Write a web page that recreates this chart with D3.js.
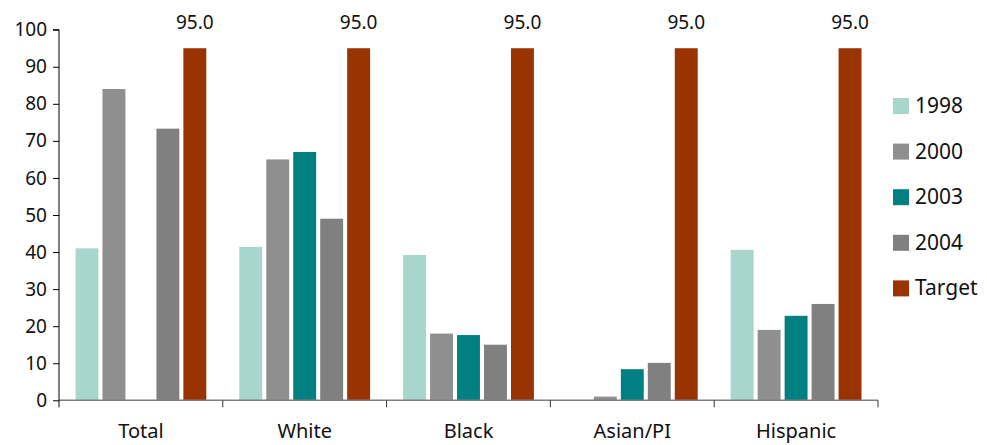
<!DOCTYPE html>
<html><head><meta charset="utf-8">
<script src="https://cdn.jsdelivr.net/npm/d3@7"></script>
<style>body{margin:0;background:#fff;} text{font-family:"Noto Sans",sans-serif;fill:#111;}</style>
</head><body><svg id="c" width="987" height="445"></svg>
<script>
const categories = ["Total","White","Black","Asian/PI","Hispanic"];
const seriesNames = ["1998","2000","2003","2004","Target"];
const v1998 = [41, 41.4, 39.2, null, 40.6];
const v2000 = [84, 65, 18, 1, 19];
const v2003 = [null, 67, 17.6, 8.4, 22.8];
const v2004 = [73.3, 49, 15, 10.1, 26];
const vTarget = [95, 95, 95, 95, 95];
const yTicks = [0,10,20,30,40,50,60,70,80,90,100];
const colors = ["#a8d5cc","#8f8f8f","#008080","#808080","#993300"];

const seriesVals = [v1998, v2000, v2003, v2004, vTarget];
const svg = d3.select("#c");
const x0 = d3.scaleBand().domain(categories).range([59, 878]).padding(0);
const x1 = d3.scaleBand().domain(seriesNames).range([0, x0.bandwidth()]).paddingInner(0.15).paddingOuter(0.612);
const y = d3.scaleLinear().domain([0,100]).range([400.3, 29.7]);

// bars
seriesNames.forEach((s, si) => {
  const data = categories.map((c, ci) => ({c, v: seriesVals[si][ci]})).filter(d => d.v != null);
  svg.append("g").selectAll("rect").data(data).join("rect")
    .attr("x", d => x0(d.c) + x1(s))
    .attr("width", x1.bandwidth())
    .attr("y", d => y(d.v))
    .attr("height", d => y(0) - y(d.v))
    .attr("fill", colors[si]);
});

// target labels
svg.append("g").selectAll("text").data(categories.map((c,i)=>({c, v:vTarget[i]}))).join("text")
  .attr("x", d => x0(d.c) + x1("Target") + x1.bandwidth()/2)
  .attr("y", 29)
  .attr("text-anchor","middle")
  .attr("font-size", 19)
  .text(d => d.v.toFixed(1));

// x axis
svg.append("line").attr("x1",59).attr("x2",878).attr("y1",y(0)).attr("y2",y(0)).attr("stroke","#808080").attr("stroke-width",1.5);
const bounds = categories.map(c => x0(c)).concat([x0.range()[1]]);
svg.append("g").selectAll("line").data(bounds.slice(1)).join("line")
  .attr("x1", d=>d).attr("x2", d=>d).attr("y1", y(0)).attr("y2", y(0)+7).attr("stroke","#333").attr("stroke-width",1);
svg.append("g").selectAll("text").data(categories).join("text")
  .attr("x", d => x0(d) + x0.bandwidth()/2)
  .attr("y", 438)
  .attr("text-anchor","middle")
  .attr("font-size", 20)
  .text(d => d);

// y axis
const yAxis = d3.axisLeft(y).tickValues(yTicks).tickSize(6).tickPadding(6).tickFormat(d3.format("d"));
const gy = svg.append("g").attr("transform","translate(59,0)").call(yAxis);
gy.select(".domain").attr("stroke","#000").attr("d", `M-6,${y(100)}H0V${y(0)+7}`);
gy.selectAll(".tick line").attr("stroke","#000");
gy.selectAll(".tick text").attr("font-size",19).attr("font-family","Noto Sans").attr("fill","#111");

// legend
const leg = svg.append("g").selectAll("g").data(seriesNames).join("g")
  .attr("transform", (d,i) => `translate(893,${98 + i*45.6})`);
leg.append("rect").attr("width",16).attr("height",16).attr("fill",(d,i)=>colors[i]);
leg.append("text").attr("x",22).attr("y",15).attr("font-size",21).text(d=>d);
</script></body></html>
